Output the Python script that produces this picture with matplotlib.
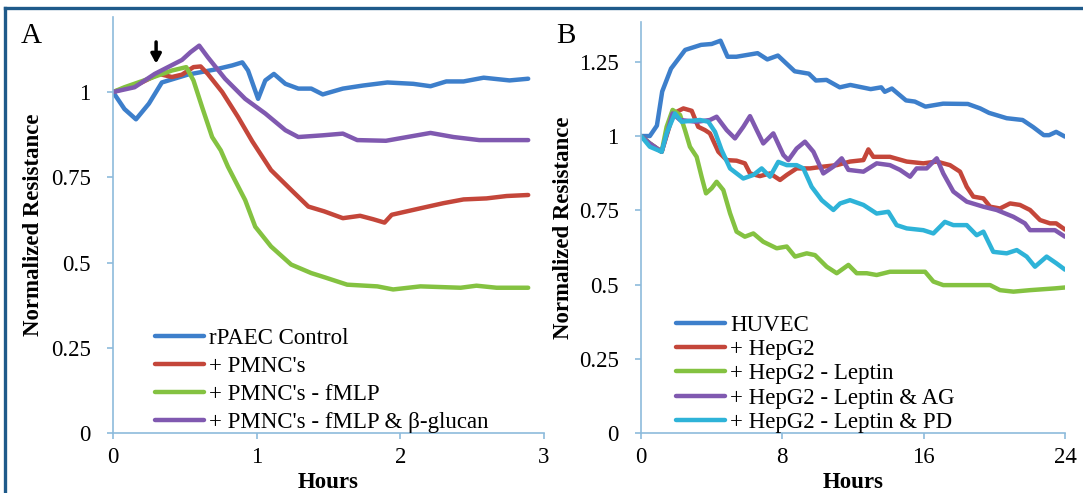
import matplotlib
matplotlib.use('Agg')
import matplotlib.pyplot as plt
from matplotlib.lines import Line2D

plt.rcParams['font.family'] = ['Liberation Serif', 'DejaVu Serif']

###### Panel A data (hours, normalized resistance) ######
labels_a = ['rPAEC Control', "+ PMNC's", "+ PMNC's - fMLP", "+ PMNC's - fMLP & β-glucan"]

ctrl_t = [0, 0.08, 0.16, 0.25, 0.34, 0.52, 0.71, 0.83, 0.9, 0.94, 1.01, 1.06, 1.12, 1.2, 1.29,
          1.38, 1.46, 1.6, 1.74, 1.91, 2.09, 2.21, 2.32, 2.44, 2.58, 2.76, 2.89]
ctrl_v = [1.0, 0.95, 0.92, 0.966, 1.028, 1.051, 1.066, 1.078, 1.087, 1.063, 0.98, 1.034, 1.053, 1.024, 1.01,
          1.01, 0.993, 1.01, 1.019, 1.028, 1.024, 1.017, 1.031, 1.031, 1.042, 1.034, 1.039]

pmn_t = [0, 0.18, 0.32, 0.41, 0.48, 0.56, 0.61, 0.66, 0.76, 0.87, 0.97, 1.1, 1.24, 1.36, 1.47, 1.6,
         1.72, 1.81, 1.89, 1.94, 2.14, 2.3, 2.44, 2.6, 2.74, 2.89]
pmn_v = [1.0, 1.024, 1.053, 1.044, 1.051, 1.073, 1.075, 1.053, 1.0, 0.927, 0.855, 0.771, 0.713, 0.664, 0.65, 0.63,
         0.637, 0.627, 0.617, 0.64, 0.659, 0.674, 0.685, 0.688, 0.695, 0.698]

fmlp_t = [0, 0.08, 0.25, 0.41, 0.51, 0.56, 0.62, 0.69, 0.75, 0.8, 0.92, 0.99, 1.1, 1.24, 1.38, 1.47,
          1.63, 1.84, 1.95, 2.14, 2.42, 2.53, 2.67, 2.89]
fmlp_v = [1.0, 1.014, 1.039, 1.063, 1.073, 1.034, 0.956, 0.868, 0.829, 0.781, 0.683, 0.605, 0.547, 0.494, 0.469, 0.457,
          0.435, 0.43, 0.421, 0.43, 0.426, 0.432, 0.426, 0.426]

gluc_t = [0, 0.15, 0.29, 0.48, 0.54, 0.6, 0.66, 0.78, 0.92, 1.06, 1.2, 1.29, 1.46, 1.6, 1.7, 1.9,
          2.21, 2.37, 2.55, 2.89]
gluc_v = [1.0, 1.014, 1.053, 1.094, 1.117, 1.136, 1.102, 1.039, 0.98, 0.937, 0.888, 0.868, 0.873, 0.878, 0.859, 0.857,
          0.88, 0.868, 0.859, 0.859]

###### Panel B data ######
labels_b = ['HUVEC', '+ HepG2', '+ HepG2 - Leptin', '+ HepG2 - Leptin & AG', '+ HepG2 - Leptin & PD']

huvec_t = [0, 0.5, 0.9, 1.2, 1.7, 2.5, 3.4, 4.0, 4.5, 4.9, 5.4, 6.6, 7.15, 7.75, 8.7, 9.5, 9.9, 10.5,
           11.25, 11.85, 13.0, 13.6, 13.8, 14.2, 15.0, 15.5, 16.1, 17.1, 18.5, 19.2, 19.7, 20.7, 21.6,
           22.2, 22.8, 23.1, 23.5, 24.0]
huvec_v = [1.0, 1.0, 1.035, 1.15, 1.227, 1.29, 1.307, 1.31, 1.321, 1.267, 1.267, 1.279, 1.258, 1.271, 1.218,
           1.21, 1.187, 1.189, 1.164, 1.172, 1.158, 1.164, 1.149, 1.16, 1.12, 1.116, 1.099, 1.109, 1.108,
           1.093, 1.078, 1.06, 1.054, 1.03, 1.003, 1.003, 1.014, 0.998]

hep_t = [0, 0.5, 1.17, 1.83, 2.4, 2.87, 3.24, 3.62, 3.9, 4.38, 4.85, 5.41, 5.88, 6.17, 6.73, 7.3, 7.87,
         8.25, 8.81, 9.57, 10.32, 11.08, 11.83, 12.59, 12.87, 13.15, 14.09, 15.04, 15.98, 16.74, 17.49,
         18.06, 18.44, 18.81, 19.38, 19.76, 20.32, 20.89, 21.45, 22.02, 22.59, 23.15, 23.5, 24]
hep_v = [1.0, 0.975, 0.947, 1.076, 1.093, 1.085, 1.031, 1.02, 1.009, 0.947, 0.919, 0.917, 0.908, 0.874,
         0.865, 0.874, 0.852, 0.869, 0.891, 0.891, 0.897, 0.902, 0.914, 0.919, 0.955, 0.93, 0.93, 0.914,
         0.908, 0.914, 0.902, 0.88, 0.829, 0.796, 0.79, 0.762, 0.756, 0.773, 0.768, 0.751, 0.717, 0.706,
         0.706, 0.685]

lep_t = [0, 0.5, 1.17, 1.45, 1.79, 2.21, 2.49, 2.77, 3.15, 3.43, 3.68, 4.0, 4.28, 4.66, 5.04, 5.41,
         5.88, 6.36, 6.92, 7.68, 8.25, 8.72, 9.38, 9.85, 10.51, 11.08, 11.74, 12.21, 12.78, 13.34, 14.09,
         15.23, 16.08, 16.55, 17.11, 18.25, 19.76, 20.32, 21.08, 22.02, 23.43, 24]
lep_v = [1.0, 0.975, 0.947, 1.031, 1.088, 1.071, 1.02, 0.964, 0.93, 0.863, 0.807, 0.824, 0.846, 0.818,
         0.74, 0.678, 0.661, 0.672, 0.644, 0.622, 0.628, 0.594, 0.605, 0.599, 0.56, 0.538, 0.566, 0.538,
         0.538, 0.532, 0.543, 0.543, 0.543, 0.51, 0.498, 0.498, 0.498, 0.481, 0.476, 0.481, 0.487, 0.49]

ag_t = [0, 0.5, 1.17, 1.79, 2.21, 3.15, 3.9, 4.28, 4.85, 5.32, 5.79, 6.17, 6.55, 6.92, 7.49, 8.06, 8.34,
        8.81, 9.28, 9.76, 10.32, 10.89, 11.36, 11.74, 12.59, 13.34, 14.09, 14.66, 15.23, 15.6, 16.17,
        16.74, 17.11, 17.68, 18.44, 19.38, 20.13, 21.08, 21.73, 22.02, 23.43, 24]
ag_v = [1.0, 0.975, 0.947, 1.076, 1.054, 1.048, 1.054, 1.065, 1.02, 0.992, 1.031, 1.067, 1.02, 0.975,
        1.009, 0.936, 0.919, 0.958, 0.981, 0.947, 0.874, 0.897, 0.925, 0.886, 0.88, 0.908, 0.902, 0.886,
        0.863, 0.891, 0.891, 0.925, 0.874, 0.813, 0.779, 0.762, 0.751, 0.728, 0.706, 0.683, 0.683, 0.661]

pd_t = [0, 0.5, 1.17, 1.45, 1.92, 2.3, 2.77, 3.34, 3.81, 4.19, 4.56, 5.04, 5.79, 6.36, 6.83, 7.3, 7.77,
        8.25, 8.81, 9.19, 9.66, 10.23, 10.89, 11.27, 11.83, 12.59, 13.34, 14.0, 14.47, 15.04, 15.98,
        16.55, 17.2, 17.68, 18.44, 19.0, 19.38, 19.94, 20.7, 21.27, 21.83, 22.3, 22.96, 23.5, 24]
pd_v = [1.0, 0.964, 0.947, 1.009, 1.076, 1.048, 1.051, 1.054, 1.048, 1.014, 0.953, 0.891, 0.857, 0.869,
        0.891, 0.863, 0.913, 0.902, 0.902, 0.891, 0.829, 0.784, 0.751, 0.773, 0.784, 0.768, 0.739, 0.745,
        0.7, 0.689, 0.683, 0.672, 0.711, 0.7, 0.7, 0.666, 0.678, 0.61, 0.605, 0.616, 0.594, 0.56, 0.594,
        0.572, 0.55]

colors = ['#3d7fcb', '#c4463a', '#84c241', '#8059b0', '#2eb3d8']
spine_col = '#8dbbdc'
fs = 16.5

fig = plt.figure(figsize=(10.83, 4.93), dpi=100)
ax_a = fig.add_axes([113/1083, 60/493, 431/1083, 416/493])
ax_b = fig.add_axes([641/1083, 60/493, 424/1083, 411/493])

series_a = [(ctrl_t, ctrl_v), (pmn_t, pmn_v), (fmlp_t, fmlp_v), (gluc_t, gluc_v)]
series_b = [(huvec_t, huvec_v), (hep_t, hep_v), (lep_t, lep_v), (ag_t, ag_v), (pd_t, pd_v)]

for (t, v), lab, c in zip(series_a, labels_a, colors):
    ax_a.plot(t, v, color=c, lw=3.2, label=lab, solid_capstyle='round')
for (t, v), lab, c in zip(series_b, labels_b, colors):
    ax_b.plot(t, v, color=c, lw=3.2, label=lab, solid_capstyle='round')

# axis setup shared by both panels
for ax in (ax_a, ax_b):
    for s in ('top', 'right'):
        ax.spines[s].set_visible(False)
    for s in ('left', 'bottom'):
        ax.spines[s].set_color(spine_col)
        ax.spines[s].set_linewidth(1.2)
    ax.tick_params(axis='both', colors=spine_col, labelcolor='black', labelsize=fs,
                   direction='out', length=4, width=1.2)
    ax.tick_params(axis='y', pad=12)
    ax.tick_params(axis='x', pad=6)
    ax.set_yticks([0, 0.25, 0.5, 0.75, 1, 1.25])
    ax.set_yticklabels(['0', '0.25', '0.5', '0.75', '1', '1.25'])
    ax.set_xlabel('Hours', fontsize=fs, fontweight='bold')
    ax.set_ylabel('Normalized Resistance', fontsize=fs, fontweight='bold')

ax_a.set_xlim(0, 3)
ax_a.set_ylim(0, 1.22)
ax_a.set_xticks([0, 1, 2, 3])
ax_a.yaxis.set_label_coords(-0.16, 0.5)
ax_a.xaxis.set_label_coords(0.5, -0.094)

ax_b.set_xlim(0, 24)
ax_b.set_ylim(0, 1.384)
ax_b.set_xticks([0, 8, 16, 24])
ax_b.yaxis.set_label_coords(-0.158, 0.5)
ax_b.xaxis.set_label_coords(0.5, -0.095)

# arrow marking treatment time
ax_a.annotate('', xy=(0.3, 1.075), xytext=(0.3, 1.155),
              arrowprops=dict(arrowstyle='-|>,head_width=0.3,head_length=0.55', lw=2.5, color='black'))

ax_a.legend(loc='lower left', bbox_to_anchor=(0.097, 0.0), frameon=False, fontsize=fs,
            handlelength=2.15, handletextpad=0.2, labelspacing=0.3, borderpad=0, borderaxespad=0)
ax_b.legend(loc='lower left', bbox_to_anchor=(0.083, 0.0), frameon=False, fontsize=fs,
            handlelength=2.15, handletextpad=0.2, labelspacing=0.14, borderpad=0, borderaxespad=0)

fig.text(21/1083, 1 - 43/493, 'A', fontsize=21)
fig.text(556/1083, 1 - 43/493, 'B', fontsize=21)

# page frame (top and left rule)
fig.add_artist(Line2D([0.0046, 0.0046], [0, 0.983], transform=fig.transFigure, color='#1f5a8a', lw=2.4))
fig.add_artist(Line2D([0.0046, 1], [0.983, 0.983], transform=fig.transFigure, color='#1f5a8a', lw=2.4))

plt.savefig('out.png', dpi=100)
